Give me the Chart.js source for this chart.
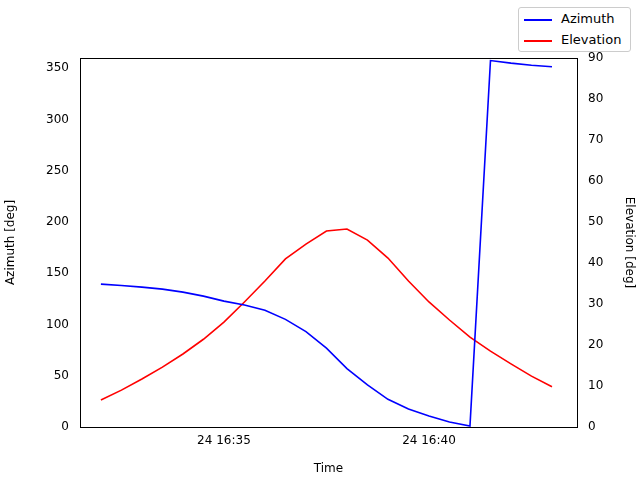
<!DOCTYPE html>
<html>
<head>
<meta charset="utf-8">
<script src="https://cdn.jsdelivr.net/npm/chart.js@4"></script>
<style>
  body { margin: 0; background: #fff; font-family: "DejaVu Sans", sans-serif; }
  #wrap { position: relative; width: 640px; height: 480px; }
  #legend {
    position: absolute; left: 518px; top: 7px; width: 113px; height: 45px;
    border: 1px solid #ccc; border-radius: 3px; background: #fff;
    font-size: 13px; color: #000; box-sizing: border-box;
  }
  .row { position: absolute; left: 5px; height: 16px; line-height: 16px; }
  .sw { display: inline-block; width: 28px; height: 2px; vertical-align: middle; margin-right: 9px; }
</style>
</head>
<body>
<div id="wrap">
  <canvas id="c" width="640" height="480"></canvas>
  <div id="legend">
    <div class="row" style="top:3px"><span class="sw" style="background:blue"></span>Azimuth</div>
    <div class="row" style="top:24px"><span class="sw" style="background:red"></span>Elevation</div>
  </div>
</div>
<script>
'use strict';

// minutes after 16:30 on the 24th, one reading every 30 s
const times = [2, 2.5, 3, 3.5, 4, 4.5, 5, 5.5, 6, 6.5, 7, 7.5, 8, 8.5, 9, 9.5, 10, 10.5, 11, 11.5, 12, 12.5, 13];
const azimuth = [139.4, 138, 136.5, 134.5, 131.6, 127.7, 122.8, 119, 114, 105, 93, 77, 57, 41, 27, 17.5, 10.7, 4.9, 1,
  357.5, 355, 353, 351.5];
const elevation = [6.6, 9, 11.7, 14.6, 17.8, 21.4, 25.6, 30.5, 35.6, 41, 44.6, 47.8, 48.3, 45.6, 41.2, 35.6, 30.5,
  26.1, 21.9, 18.5, 15.4, 12.4, 9.8];
const timeTicks = [5, 10];
const timeLabels = { 5: '24 16:35', 10: '24 16:40' };

const FONT = { family: 'DejaVu Sans', size: 12 };

new Chart(document.getElementById('c'), {
  type: 'line',
  data: {
    datasets: [
      { label: 'Azimuth', data: times.map((t, i) => ({ x: t, y: azimuth[i] })), yAxisID: 'y',
        borderColor: 'blue', borderWidth: 1.6, pointRadius: 0, tension: 0 },
      { label: 'Elevation', data: times.map((t, i) => ({ x: t, y: elevation[i] })), yAxisID: 'y2',
        borderColor: 'red', borderWidth: 1.6, pointRadius: 0, tension: 0 },
    ],
  },
  options: {
    responsive: false,
    animation: false,
    layout: { padding: { top: 58, right: 0, bottom: 0, left: 0 } },
    plugins: { legend: { display: false }, tooltip: { enabled: false } },
    scales: {
      x: {
        type: 'linear', min: 1.49, max: 13.61,
        afterBuildTicks: (s) => { s.ticks = timeTicks.map((v) => ({ value: v })); },
        afterFit: (s) => { s.height = 53; },
        ticks: { color: '#000', font: FONT, maxRotation: 0, callback: (v) => timeLabels[v] || '' },
        grid: { display: false, drawTicks: true, tickLength: 4 },
        border: { color: '#000' },
        title: { display: true, text: 'Time', color: '#000', font: FONT },
      },
      y: {
        position: 'left', min: 0, max: 360,
        afterBuildTicks: (s) => { s.ticks = [0, 50, 100, 150, 200, 250, 300, 350].map((v) => ({ value: v })); },
        afterFit: (s) => { s.width = 80; },
        ticks: { color: '#000', font: FONT },
        grid: { display: false },
        border: { color: '#000' },
        title: { display: true, text: 'Azimuth [deg]', color: '#000', font: FONT },
      },
      y2: {
        position: 'right', min: 0, max: 90,
        afterBuildTicks: (s) => { s.ticks = [0, 10, 20, 30, 40, 50, 60, 70, 80, 90].map((v) => ({ value: v })); },
        afterFit: (s) => { s.width = 63; },
        ticks: { color: '#000', font: FONT },
        grid: { display: false },
        border: { color: '#000' },
        title: { display: true, text: 'Elevation [deg]', color: '#000', font: FONT },
      },
    },
  },
  plugins: [{
    id: 'frame',
    afterDraw(chart) {
      const { ctx, chartArea: a } = chart;
      ctx.save();
      ctx.strokeStyle = '#000';
      ctx.lineWidth = 1;
      ctx.beginPath();
      ctx.moveTo(a.left, a.top + 0.5);
      ctx.lineTo(a.right, a.top + 0.5);
      ctx.stroke();
      ctx.restore();
    },
  }],
});
</script>
</body>
</html>
